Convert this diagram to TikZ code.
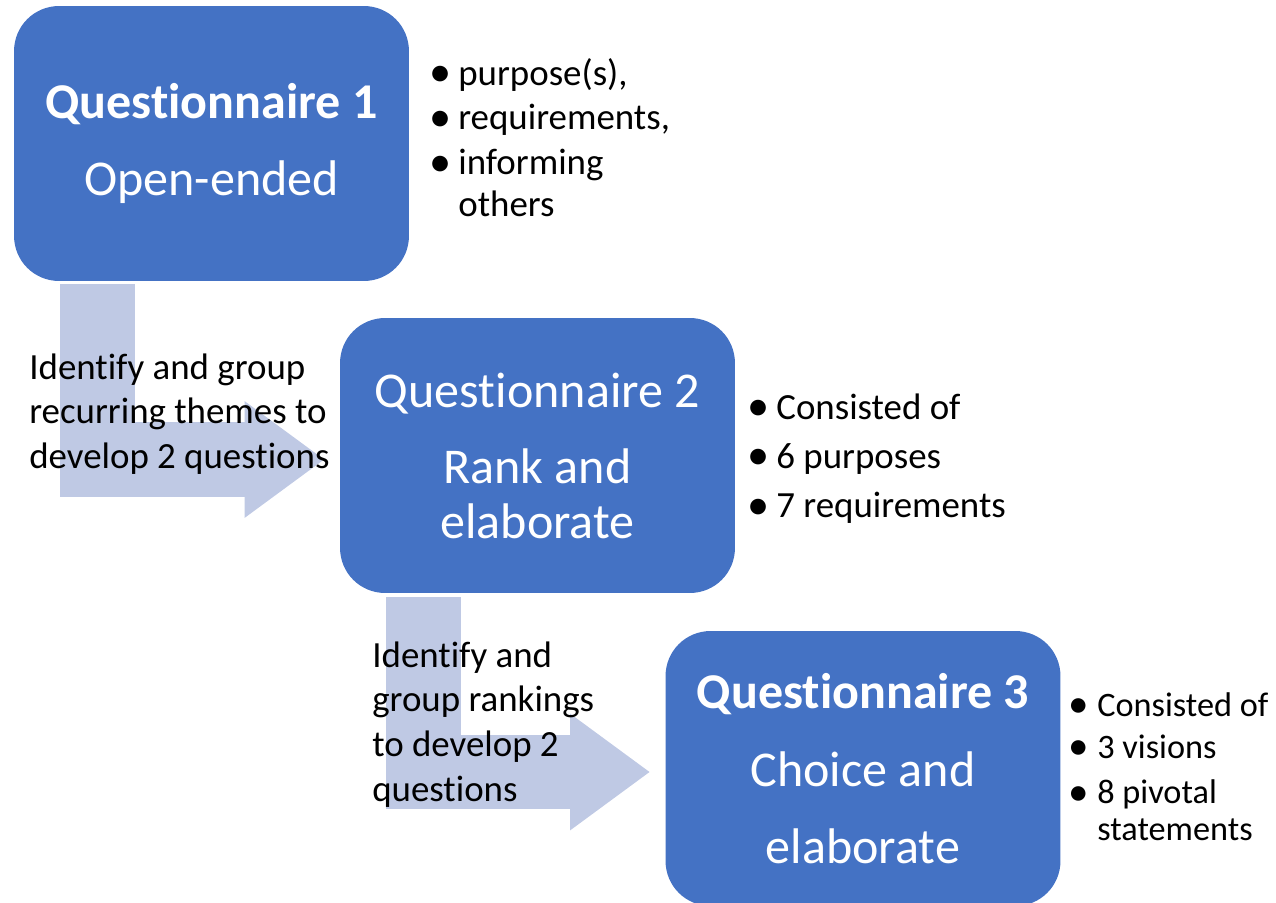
\documentclass[tikz,border=0pt]{standalone}
\usepackage{fontspec}
\setmainfont{Carlito}[Ligatures=CommonOff]
\usetikzlibrary{arrows.meta,calc}

\definecolor{qblue}{RGB}{68,114,196}
\definecolor{qarrow}{RGB}{191,201,228}

\tikzset{
  qbox/.style={fill=qblue, rounded corners=0.9cm, minimum width=7.9cm,
    minimum height=5.5cm, text=white, align=center, inner sep=0pt,
    font=\fontsize{28.5}{31.3}\selectfont},
  flow/.style={qarrow, line width=1.5cm,
    -{Triangle[length=1.6cm, width=2.22cm]}},
  note/.style={anchor=base west, inner sep=0pt,
    font=\fontsize{21}{25.5}\selectfont},
  bullets/.style={anchor=base west, inner sep=0pt,
    font=\fontsize{21}{24}\selectfont},
}

\newcommand{\bul}{\makebox[0.4cm][l]{\hspace{-5pt}\raisebox{-1pt}{\scalebox{1.2}{•}}}}

\begin{document}
\begin{tikzpicture}[x=0.02cm, y=-0.02cm]

\useasboundingbox (0,0) rectangle (1276,903);

%% questionnaires
\node[qbox] (q1) at (211.5,143.5) {\textbf{Questionnaire 1}\\[12.5pt]Open-ended};
\node[qbox] (q2) at (537.5,455.5) {Questionnaire 2\\[12pt]Rank and\\elaborate};
\node[qbox] (q3) at (863,768.5) {\textbf{Questionnaire 3}\\[13pt]Choice and\\[12.5pt]elaborate};

%% arrows between them
\coordinate (a1) at ($(q1.south west)+(84,3)$);
\coordinate (a2) at ($(q2.south west)+(83.5,4)$);
\draw[flow] (a1) |- ($(q2.west)+(-15,4)$);
\draw[flow] (a2) |- ($(q3.west)+(-15,3.5)$);

%% what happened in between
\node[note] (s1) at (29,379) {\begin{tabular}[t]{@{}l@{}}
  Identify and group\\recurring themes to\\develop 2 questions\end{tabular}};
\node[note] (s2) at (372,667) {\begin{tabular}[t]{@{}l@{}}
  Identify and\\group rankings\\to develop 2\\questions\end{tabular}};

%% contents
\node[bullets] (c1) at (438,85) {\begin{tabular}[t]{@{}l@{}}
  \bul purpose(s),\\[1.5pt]\bul requirements,\\[1.5pt]\bul informing\\
  \hspace*{0.4cm}others\end{tabular}};
\node[bullets] (c2) at (756,419) {\begin{tabular}[t]{@{}l@{}}
  \bul Consisted of\\[4pt]\bul 6 purposes\\[4pt]\bul 7 requirements\end{tabular}};
\node[bullets, font=\fontsize{19.5}{21}\selectfont] (c3) at (1077,716) {\begin{tabular}[t]{@{}l@{}}
  \bul Consisted of\\[3pt]\bul 3 visions\\[5pt]\bul 8 pivotal\\
  \hspace*{0.4cm}statements\end{tabular}};

\end{tikzpicture}
\end{document}
